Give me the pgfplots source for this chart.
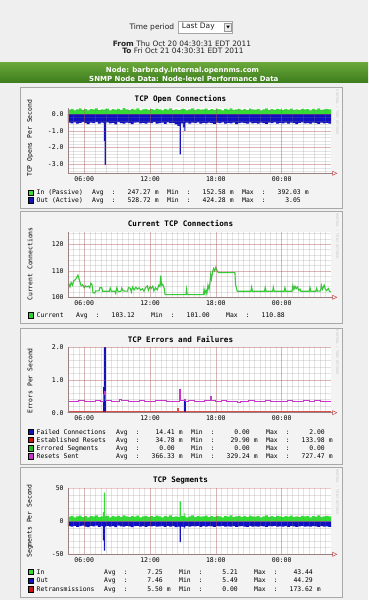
\documentclass[border=0pt]{standalone}
\usepackage{pgfplots}
\usepackage{pgfplotstable}
\pgfplotsset{compat=1.18}
\usepackage{fontspec}
\setmainfont{DejaVu Sans}
\newfontfamily\mono{DejaVu Sans Mono}
\newcommand{\fs}[1]{\fontsize{#1}{#1}\selectfont}
\newcommand{\lgf}{\mono\fs{6.4}}
\definecolor{pagebg}{HTML}{EFEFEF}
\definecolor{panelbg}{HTML}{F3F3F3}
\definecolor{panelbd}{HTML}{A8A8A8}
\definecolor{ingreen}{HTML}{33DD33}
\definecolor{outblue}{HTML}{1010C0}
\definecolor{curgreen}{HTML}{33CC33}
\definecolor{mgridc}{HTML}{C04040}
\definecolor{axisc}{HTML}{9A8080}
\definecolor{arrowc}{HTML}{C04848}
\definecolor{magen}{HTML}{CC33CC}
\definecolor{resred}{HTML}{CC1111}
\definecolor{errgreen}{HTML}{22BB22}
\definecolor{wmc}{HTML}{C8C8C8}
\definecolor{bandtop}{HTML}{6AA83A}
\definecolor{bandbot}{HTML}{3C7C1C}
\definecolor{hdrtext}{HTML}{222222}

\pgfplotsset{rrd/.style={scale only axis, width=263.2pt, xmin=0, xmax=24,
  anchor=south west,
  axis background/.style={fill=white},
  axis line style={draw=none}, tick style={draw=none},
  grid=both,
  major grid style={color=mgridc, opacity=0.28, line width=0.45pt},
  minor grid style={color=gray, opacity=0.22, line width=0.4pt},
  axis on top,
  xtick={1.5,7.5,13.5,19.5}, xticklabels={06:00,12:00,18:00,00:00},
  ticklabel style={font=\mono\fs{6.5}, text=black},
  xticklabel style={anchor=center, yshift=-5.5pt},
  yticklabel style={anchor=east, inner sep=0pt, xshift=-4pt},
  clip=true}}

\newcommand{\legrow}[3]{%
  \filldraw[fill=#2,draw=black,line width=0.4pt] (27.8,{600-#1-2.7}) rectangle (33.2,{600-#1+2.7});
  \node[anchor=base west,inner sep=0pt,font=\lgf] at (36.5,{600-#1-2.3}) {#3};}
\newcommand{\stats}[8]{%
  \node[anchor=base west,inner sep=0pt,font=\lgf] at ({#2},{600-#1-2.3}) {Avg};
  \node[anchor=base,inner sep=0pt,font=\lgf] at ({#2+21.5},{600-#1-2.3}) {:};
  \node[anchor=base east,inner sep=0pt,font=\lgf] at ({#2+59},{600-#1-2.3}) {#3};
  \node[anchor=base west,inner sep=0pt,font=\lgf] at ({#2+62.6},{600-#1-2.3}) {#4};
  \node[anchor=base west,inner sep=0pt,font=\lgf] at ({#2+75},{600-#1-2.3}) {Min};
  \node[anchor=base,inner sep=0pt,font=\lgf] at ({#2+96.5},{600-#1-2.3}) {:};
  \node[anchor=base east,inner sep=0pt,font=\lgf] at ({#2+134},{600-#1-2.3}) {#5};
  \node[anchor=base west,inner sep=0pt,font=\lgf] at ({#2+137.6},{600-#1-2.3}) {#6};
  \node[anchor=base west,inner sep=0pt,font=\lgf] at ({#2+150},{600-#1-2.3}) {Max};
  \node[anchor=base,inner sep=0pt,font=\lgf] at ({#2+171.5},{600-#1-2.3}) {:};
  \node[anchor=base east,inner sep=0pt,font=\lgf] at ({#2+209},{600-#1-2.3}) {#7};
  \node[anchor=base west,inner sep=0pt,font=\lgf] at ({#2+212.6},{600-#1-2.3}) {#8};}
\newcommand{\wm}[1]{\node[rotate=-90,font=\mono\fs{3.4},text=wmc] at (337.3,{600-#1}) {RRDTOOL / TOBI OETIKER};}
\newcommand{\xaxis}[2]{% #1 bottom y px, #2 top y px
  \draw[axisc,line width=0.6pt] (67.8,{600-#1}) -- (333,{600-#1});
  \draw[axisc,line width=0.6pt] (67.8,{600-#1}) -- (67.8,{600-#2});
  \draw[arrowc,line width=0.5pt] (332.6,{600-#1+2}) -- (336.8,{600-#1}) -- (332.6,{600-#1-2}) -- cycle;}

\pgfplotstableread{
h in out
0 0.26 -0.52
0.25 0.31 -0.56
0.5 0.22 -0.50
0.75 0.28 -0.58
1 0.33 -0.53
1.25 0.24 -0.49
1.5 0.29 -0.55
1.75 0.21 -0.60
2 0.30 -0.51
2.25 0.27 -0.54
2.5 0.34 -0.48
2.75 0.23 -0.57
3 0.28 -0.52
3.25 0.25 -0.55
3.30 0.25 -1.60
3.36 0.30 -3.05
3.48 0.30 -0.58
3.5 0.32 -0.50
3.75 0.22 -0.56
4 0.29 -0.53
4.25 0.26 -0.61
4.5 0.31 -0.49
4.75 0.24 -0.54
5 0.35 -0.57
5.25 0.27 -0.51
5.5 0.23 -0.55
5.75 0.30 -0.60
6 0.26 -0.52
6.25 0.33 -0.50
6.5 0.22 -0.56
6.75 0.28 -0.53
7 0.31 -0.58
7.25 0.25 -0.51
7.5 0.29 -0.55
7.75 0.24 -0.49
8 0.32 -0.57
8.25 0.27 -0.54
8.5 0.21 -0.52
8.75 0.30 -0.59
9 0.26 -0.50
9.25 0.34 -0.55
9.5 0.23 -0.53
9.75 0.28 -0.62
10 0.25 -0.70
10.2 0.25 -2.40
10.32 0.31 -0.56
10.5 0.31 -0.80
10.62 0.29 -1.00
10.72 0.29 -0.54
10.75 0.22 -0.51
11 0.27 -0.57
11.25 0.33 -0.52
11.5 0.24 -0.55
11.75 0.30 -0.50
12 0.26 -0.58
12.25 0.28 -0.53
12.5 0.32 -0.56
12.75 0.23 -0.51
13 0.29 -0.54
13.25 0.25 -0.59
13.5 0.31 -0.52
13.75 0.27 -0.55
14 0.22 -0.50
14.25 0.30 -0.57
14.5 0.26 -0.53
14.75 0.34 -0.56
15 0.24 -0.51
15.25 0.28 -0.60
15.5 0.31 -0.54
15.75 0.25 -0.52
16 0.29 -0.55
16.25 0.23 -0.58
16.5 0.32 -0.50
16.75 0.27 -0.56
17 0.26 -0.53
17.25 0.30 -0.57
17.5 0.22 -0.51
17.75 0.28 -0.55
18 0.33 -0.59
18.25 0.25 -0.52
18.5 0.29 -0.54
18.75 0.24 -0.50
19 0.31 -0.57
19.25 0.27 -0.53
19.5 0.23 -0.56
19.75 0.30 -0.52
20 0.26 -0.58
20.25 0.32 -0.51
20.5 0.25 -0.55
20.75 0.28 -0.60
21 0.24 -0.53
21.25 0.31 -0.50
21.5 0.27 -0.56
21.75 0.29 -0.54
22 0.22 -0.57
22.25 0.30 -0.52
22.5 0.26 -0.55
22.75 0.33 -0.59
23 0.25 -0.51
23.25 0.28 -0.56
23.5 0.31 -0.53
23.75 0.27 -0.58
24 0.27 -0.58
}\tabOpen

\pgfplotstableread{
h v
0.0 104.3
0.12 104.9
0.2 103.9
0.3 105.6
0.42 104.6
0.55 106.3
0.68 106.6
0.8 107.4
0.92 108.4
1.02 107.0
1.12 105.6
1.22 104.3
1.35 104.7
1.5 103.6
1.62 104.3
1.75 103.9
1.88 104.2
2.0 103.6
2.1 105.3
2.2 104.9
2.3 101.7
2.45 101.6
2.55 102.4
2.85 102.4
2.92 103.6
3.1 103.6
3.17 102.3
3.8 102.3
3.87 103.5
3.97 102.3
4.3 102.3
4.37 101.5
4.47 103.6
4.6 102.1
4.85 102.3
4.92 103.5
5.05 102.4
5.45 102.3
5.52 103.7
5.7 103.4
5.8 102.0
5.9 103.9
6.05 102.8
6.2 103.8
6.35 103.1
6.5 103.6
6.65 102.7
6.8 103.2
6.95 102.3
7.1 103.7
7.25 104.3
7.35 102.6
7.5 104.0
7.6 103.3
7.75 104.2
7.85 102.4
8.0 103.6
8.15 102.8
8.3 104.6
8.4 104.1
8.47 108.2
8.55 104.5
8.65 104.9
8.78 103.6
8.87 101.0
10.78 101.0
10.82 103.0
10.9 101.0
12.38 101.0
12.42 103.1
12.5 101.5
12.6 102.6
12.68 101.3
12.78 104.6
12.88 103.0
12.96 105.4
13.03 108.5
13.1 106.9
13.2 109.6
13.3 110.9
13.4 109.9
13.5 111.3
13.6 110.2
13.72 109.3
15.24 109.3
15.3 104.7
15.45 102.3
16.7 102.3
16.76 103.8
16.84 102.3
17.94 102.3
18.0 103.6
18.08 102.3
18.68 102.3
18.74 103.8
18.82 102.3
19.74 102.3
19.8 103.6
19.88 102.3
20.45 102.3
20.52 104.4
20.62 102.9
20.72 104.2
20.82 103.2
20.95 103.9
21.05 102.6
21.17 103.1
21.25 102.3
22.02 102.3
22.08 103.7
22.16 102.3
22.62 102.3
22.69 103.4
22.77 102.3
23.05 102.4
23.12 104.5
23.22 103.0
23.38 104.6
23.48 103.1
23.6 102.5
23.75 103.3
23.85 102.3
24.0 102.0
}\tabCur

\pgfplotstableread{
h fail est err rs
0 0 0.032 0 0.36
0.5 0 0.031 0 0.355
1 0 0.033 0 0.365
1.5 0 0.030 0 0.36
2 0 0.034 0 0.35
2.5 0 0.032 0 0.365
3 0 0.031 0 0.36
3.22 0.77 0.033 0 0.55
3.3 2.0 0.035 0 0.64
3.4 0 0.032 0 0.37
4 0 0.031 0 0.36
4.5 0 0.033 0 0.355
4.75 0 0.032 0 0.42
4.85 0 0.031 0 0.365
5.5 0 0.033 0 0.36
6 0 0.030 0 0.35
6.5 0 0.032 0 0.37
7 0 0.031 0 0.36
7.5 0 0.033 0 0.355
8 0 0.032 0 0.365
8.5 0 0.031 0 0.37
9 0 0.034 0 0.36
9.5 0 0.032 0 0.35
10 0 0.134 0 0.36
10.08 0 0.032 0 0.36
10.2 0 0.033 0 0.727
10.27 0 0.032 0 0.37
10.62 0.42 0.031 0 0.40
10.7 0 0.032 0 0.36
11 0 0.033 0 0.365
11.5 0 0.031 0 0.355
12 0 0.032 0 0.36
12.5 0 0.033 0 0.37
13.03 0 0.032 0 0.50
13.12 0 0.031 0 0.375
13.5 0 0.033 0 0.36
14 0 0.032 0 0.365
14.5 0 0.031 0 0.355
15 0 0.033 0 0.36
15.5 0 0.032 0 0.33
15.7 0 0.031 0 0.355
16 0 0.033 0 0.36
16.5 0 0.032 0 0.37
17 0 0.031 0 0.36
17.5 0 0.033 0 0.355
18 0 0.032 0 0.365
18.5 0 0.031 0 0.36
19 0 0.033 0 0.35
19.5 0 0.032 0 0.36
20 0 0.031 0 0.365
20.5 0 0.033 0 0.36
21 0 0.032 0 0.355
21.5 0 0.031 0 0.365
22 0 0.033 0 0.36
22.5 0 0.032 0 0.37
23 0 0.031 0 0.36
23.5 0 0.032 0 0.355
24 0 0.032 0 0.355
}\tabErr

\pgfplotstableread{
h in out
0 7.1 -7.3
0.25 8.2 -8.1
0.5 6.0 -6.8
0.75 7.6 -8.6
1 8.6 -7.4
1.25 6.5 -6.6
1.5 7.8 -7.9
1.75 5.9 -8.9
2 8.0 -7.0
2.25 7.3 -7.7
2.5 8.8 -6.5
2.75 6.3 -8.3
3 7.5 -7.4
3.2 14.0 -29.0
3.3 43.4 -44.3
3.4 8.0 -8.0
3.5 8.4 -6.9
3.75 6.1 -8.0
4 7.8 -7.5
4.25 7.0 -8.8
4.5 8.3 -6.7
4.75 6.6 -7.7
5 9.0 -8.2
5.25 7.3 -7.1
5.5 6.3 -7.8
5.75 8.0 -8.7
6 7.0 -7.3
6.25 8.6 -7.0
6.5 6.0 -8.0
6.75 7.5 -7.5
7 8.3 -8.4
7.25 6.8 -7.2
7.5 7.8 -7.8
7.75 6.5 -6.8
8 8.5 -8.2
8.25 7.3 -7.7
8.5 5.8 -7.4
8.75 8.0 -8.5
9 7.0 -7.0
9.25 8.9 -7.9
9.5 6.3 -7.5
9.75 7.6 -9.0
10 6.8 -8.0
10.2 30.3 -31.4
10.3 8.3 -8.0
10.5 8.3 -8.6
10.62 12.6 -10.6
10.7 7.7 -7.7
10.75 6.0 -7.2
11 7.3 -8.2
11.25 8.8 -7.4
11.5 6.5 -7.8
11.75 8.0 -7.0
12 7.0 -8.3
12.25 7.5 -7.5
12.5 8.5 -8.0
12.75 6.2 -7.2
13 7.8 -7.7
13.25 6.8 -8.5
13.5 8.3 -7.4
13.75 7.3 -7.8
14 6.0 -7.0
14.25 8.0 -8.2
14.5 7.0 -7.6
14.75 9.0 -8.0
15 6.5 -7.3
15.25 7.5 -8.6
15.5 8.3 -7.7
15.75 6.8 -7.4
16 7.8 -7.9
16.25 6.3 -8.3
16.5 8.5 -7.1
16.75 7.3 -8.0
17 7.0 -7.6
17.25 8.0 -8.1
17.5 6.0 -7.3
17.75 7.5 -7.8
18 8.8 -8.5
18.25 6.8 -7.4
18.5 7.8 -7.7
18.75 6.5 -7.1
19 8.3 -8.2
19.25 7.3 -7.6
19.5 6.3 -8.0
19.75 8.0 -7.4
20 7.0 -8.4
20.25 8.5 -7.3
20.5 6.8 -7.8
20.75 7.5 -8.6
21 6.5 -7.6
21.25 8.3 -7.1
21.5 7.3 -8.0
21.75 7.8 -7.7
22 6.0 -8.2
22.25 8.0 -7.4
22.5 7.0 -7.8
22.75 8.8 -8.5
23 6.8 -7.3
23.25 7.5 -8.0
23.5 8.3 -7.6
23.75 7.3 -8.3
24 7.3 -8.3
}\tabSeg

\begin{document}
\begin{tikzpicture}[x=1pt,y=1pt]
\path[use as bounding box] (0,0) rectangle (368,600);
\fill[pagebg] (0,0) rectangle (368,600);

% ---- header ----
\node[anchor=west,inner sep=0pt,font=\fs{7.5},text=hdrtext] at (129.3,573) {Time period};
\filldraw[fill=white,draw=gray!70,line width=0.5pt] (178.3,579) rectangle (232.7,566.7);
\node[anchor=west,inner sep=0pt,font=\fs{7.5},text=hdrtext] at (181.7,573) {Last Day};
\filldraw[fill=gray!15,draw=gray!80,line width=0.4pt] (224.5,577) rectangle (231.6,568.7);
\fill[black] (226.3,574.3) -- (229.8,574.3) -- (228.05,571.6) -- cycle;
\node[font=\fs{7.4},text=hdrtext,inner sep=0pt] at (182,556.7) {\textbf{From} Thu Oct 20 04:30:31 EDT 2011};
\node[font=\fs{7.4},text=hdrtext,inner sep=0pt] at (183,549.3) {\textbf{To} Fri Oct 21 04:30:31 EDT 2011};
\shade[top color=bandtop,bottom color=bandbot] (0,537.7) rectangle (368,517);
\node[font=\bfseries\fs{7},text=white,inner sep=0pt] at (182.5,529.3) {Node: barbrady.internal.opennms.com};
\node[font=\bfseries\fs{7},text=white,inner sep=0pt] at (183.8,521.3) {SNMP Node Data: Node-level Performance Data};

% ---- panels ----
\filldraw[fill=panelbg,draw=panelbd,line width=0.7pt] (20,512.3) rectangle (342,391.7);
\filldraw[fill=panelbg,draw=panelbd,line width=0.7pt] (20,388.3) rectangle (342,276.8);
\filldraw[fill=panelbg,draw=panelbd,line width=0.7pt] (20,271.7) rectangle (342,136);
\filldraw[fill=panelbg,draw=panelbd,line width=0.7pt] (20,132.2) rectangle (342,3);
\wm{112.5}\wm{236}\wm{352.5}\wm{492}

% ---- panel 1 ----
\node[font=\mono\bfseries\fs{7.6},inner sep=0pt] at (180.5,500.7) {TCP Open Connections};
\node[rotate=90,font=\lgf,inner sep=0pt] at (30,461.7) {TCP Opens Per Second};
\begin{axis}[rrd, at={(67.8pt,426.7pt)}, height=65pt,
  ymin=-3.53, ymax=0.34,
  ytick={-3,-2,-1,0}, yticklabels={-3.0,-2.0,-1.0,0.0},
  minor ytick={-3.4,-3.2,...,0.21},
  minor xtick={0.5,1.5,...,23.5}]
\addplot[fill=ingreen,draw=none,const plot] table[x=h,y=in] {\tabOpen} \closedcycle;
\addplot[fill=outblue,draw=none,const plot] table[x=h,y=out] {\tabOpen} \closedcycle;
\end{axis}
\xaxis{173.3}{108.3}
\legrow{192.5}{ingreen}{In (Passive)}
\stats{192.5}{92}{247.27}{m}{152.58}{m}{392.03}{m}
\legrow{200.3}{outblue}{Out (Active)}
\stats{200.3}{92}{528.72}{m}{424.28}{m}{3.05}{}

% ---- panel 2 ----
\node[font=\mono\bfseries\fs{7.6},inner sep=0pt] at (180.5,376.7) {Current TCP Connections};
\node[rotate=90,font=\lgf,inner sep=0pt] at (30,336) {Current Connections};
\begin{axis}[rrd, at={(67.8pt,302.7pt)}, height=65.6pt,
  ymin=100, ymax=124.75,
  ytick={100,110,120}, yticklabels={100,110,120},
  minor ytick={102,104,...,124},
  minor xtick={0.5,1,...,23.5}]
\addplot[curgreen,line width=1.1pt] table[x=h,y=v] {\tabCur};
\end{axis}
\xaxis{297.3}{231.7}
\legrow{315.3}{curgreen}{Current}
\stats{315.3}{76}{103.12}{}{101.00}{}{110.88}{}

% ---- panel 3 ----
\node[font=\mono\bfseries\fs{7.6},inner sep=0pt] at (180.5,261) {TCP Errors and Failures};
\node[rotate=90,font=\lgf,inner sep=0pt] at (30,219) {Errors Per Second};
\begin{axis}[rrd, at={(67.8pt,187.3pt)}, height=66pt,
  ymin=0, ymax=2.02,
  ytick={0,1,2}, yticklabels={0.0,1.0,2.0},
  minor ytick={0.2,0.4,...,1.9},
  minor xtick={0.5,1,...,23.5}]
\addplot[fill=outblue,draw=outblue,line width=0.5pt,const plot] table[x=h,y=fail] {\tabErr} \closedcycle;
\addplot[resred,line width=1.3pt,const plot,opacity=0.75] table[x=h,y=est] {\tabErr};
\addplot[errgreen,line width=1.3pt,const plot,opacity=0.5] table[x=h,y=err] {\tabErr};
\addplot[magen,line width=0.8pt,const plot] table[x=h,y=rs] {\tabErr};
\end{axis}
\xaxis{412.7}{346.7}
\legrow{431.8}{outblue}{Failed Connections}
\stats{431.8}{116}{14.41}{m}{0.00}{}{2.00}{}
\legrow{440}{resred}{Established Resets}
\stats{440}{116}{34.78}{m}{29.90}{m}{133.98}{m}
\legrow{448.2}{errgreen}{Errored Segments}
\stats{448.2}{116}{0.00}{}{0.00}{}{0.00}{}
\legrow{456.4}{magen}{Resets Sent}
\stats{456.4}{116}{366.33}{m}{329.24}{m}{727.47}{m}

% ---- panel 4 ----
\node[font=\mono\bfseries\fs{7.6},inner sep=0pt] at (180.5,120) {TCP Segments};
\node[rotate=90,font=\lgf,inner sep=0pt] at (30,79) {Segments Per Second};
\begin{axis}[rrd, at={(67.8pt,45.7pt)}, height=66pt,
  ymin=-50, ymax=50,
  ytick={-50,0,50}, yticklabels={-50,0,50},
  minor ytick={-40,-30,...,40},
  minor xtick={0.5,1,...,23.5}]
\addplot[fill=ingreen,draw=none,const plot] table[x=h,y=in] {\tabSeg} \closedcycle;
\addplot[fill=outblue,draw=none,const plot] table[x=h,y=out] {\tabSeg} \closedcycle;
\end{axis}
\xaxis{554.3}{488.3}
\legrow{571.9}{ingreen}{In}
\stats{571.9}{104}{7.25}{}{5.21}{}{43.44}{}
\legrow{580.7}{outblue}{Out}
\stats{580.7}{104}{7.46}{}{5.49}{}{44.29}{}
\legrow{589.4}{resred}{Retransmissions}
\stats{589.4}{104}{5.50}{m}{0.00}{}{173.62}{m}
\end{tikzpicture}
\end{document}
